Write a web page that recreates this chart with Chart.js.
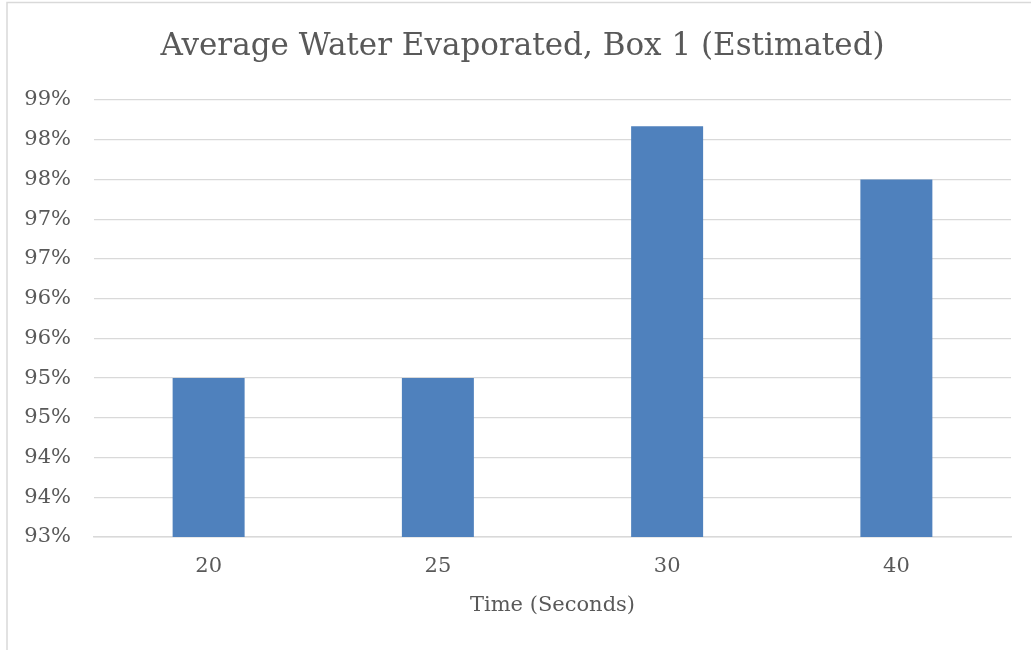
<!DOCTYPE html>
<html>
<head>
<meta charset="utf-8">
<title>Average Water Evaporated, Box 1 (Estimated)</title>
<script src="https://cdn.jsdelivr.net/npm/chart.js@4/dist/chart.umd.min.js"></script>
<style>
  html, body { margin: 0; padding: 0; background: #ffffff; }
  #wrap { width: 1031px; height: 650px; position: relative; }
</style>
</head>
<body>
<div id="wrap"><canvas id="chart" width="1031" height="650"></canvas></div>
<script>
// Drying time per run, in seconds
const categories = ['20', '25', '30', '40'];
// Share of water evaporated, in percent
const evaporated = [95.0, 95.0, 98.17, 97.5];
// Value axis range and step, in percent
const yMin = 93;
const yMax = 98.5;
const yStep = 0.5;

const chartTitle = 'Average Water Evaporated, Box 1 (Estimated)';
const xAxisTitle = 'Time (Seconds)';

const textColor = '#595959';
const gridColor = '#D9D9D9';
const barColor = '#4F81BD';
const serif = '"DejaVu Serif", "Liberation Serif", serif';

// Light frame around the whole chart object, plus the heading centred on that frame
const frame = {
  id: 'frame',
  beforeDraw(chart) {
    const ctx = chart.ctx;
    ctx.save();
    ctx.fillStyle = '#ffffff';
    ctx.fillRect(0, 0, chart.width, chart.height);
    ctx.strokeStyle = gridColor;
    ctx.lineWidth = 1.5;
    ctx.strokeRect(7, 2.5, chart.width + 50, chart.height + 50);
    ctx.fillStyle = textColor;
    ctx.font = '31px ' + serif;
    ctx.textAlign = 'center';
    ctx.textBaseline = 'middle';
    ctx.fillText(chartTitle, 522.5, 47);
    ctx.restore();
  }
};

new Chart(document.getElementById('chart'), {
  type: 'bar',
  data: {
    labels: categories,
    datasets: [{
      data: evaporated,
      backgroundColor: barColor,
      borderWidth: 0,
      categoryPercentage: 1.0,
      barPercentage: 0.314
    }]
  },
  options: {
    responsive: false,
    animation: false,
    devicePixelRatio: 1,
    layout: { padding: { top: 100, left: 0, right: 20, bottom: 0 } },
    plugins: {
      legend: { display: false },
      tooltip: { enabled: false },
      title: { display: false }
    },
    scales: {
      x: {
        grid: { display: false, drawTicks: false },
        border: { display: true, color: gridColor, width: 1.5 },
        ticks: {
          color: textColor,
          font: { family: serif, size: 21, lineHeight: 1.2 },
          padding: 17,
          maxRotation: 0
        },
        title: {
          display: true,
          text: xAxisTitle,
          color: textColor,
          font: { family: serif, size: 21, lineHeight: 1.2 },
          padding: { top: 0, bottom: 32 }
        },
        afterFit(scale) { scale.height = 113; }
      },
      y: {
        min: yMin,
        max: yMax,
        grid: { color: gridColor, lineWidth: 1.25, drawTicks: false },
        border: { display: false },
        ticks: {
          stepSize: yStep,
          color: textColor,
          font: { family: serif, size: 21, lineHeight: 1.2 },
          padding: 23,
          callback: (v) => Math.round(v) + '%'
        },
        afterFit(scale) { scale.width = 94; }
      }
    }
  },
  plugins: [frame]
});
</script>
</body>
</html>
